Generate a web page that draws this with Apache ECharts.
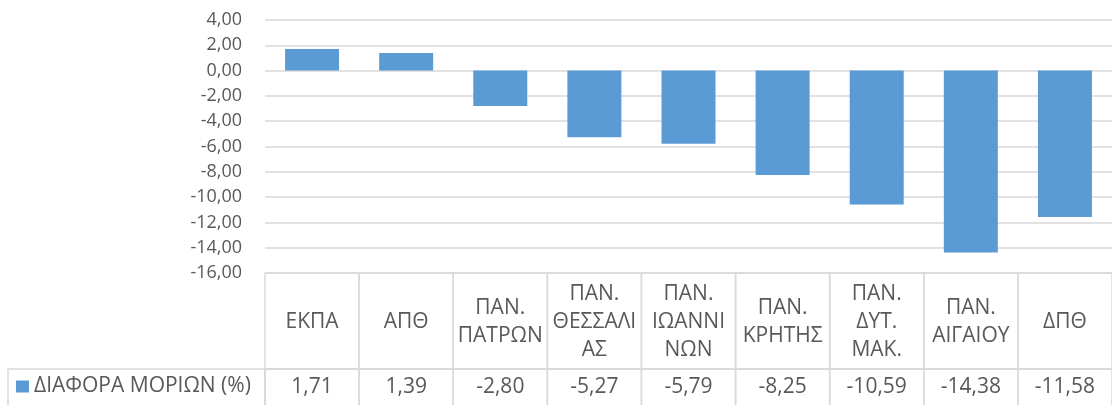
<!DOCTYPE html>
<html>
<head>
<meta charset="utf-8">
<script src="https://cdn.jsdelivr.net/npm/echarts@6/dist/echarts.min.js"></script>
<style>
  html, body { margin: 0; padding: 0; background: #fff; }
  #chart { width: 1112px; height: 405px; }
</style>
</head>
<body>
<div id="chart"></div>
<script>
// data
const categories = ['ΕΚΠΑ', 'ΑΠΘ', 'ΠΑΝ.\nΠΑΤΡΩΝ', 'ΠΑΝ.\nΘΕΣΣΑΛΙ\nΑΣ', 'ΠΑΝ.\nΙΩΑΝΝΙ\nΝΩΝ',
  'ΠΑΝ.\nΚΡΗΤΗΣ', 'ΠΑΝ.\nΔΥΤ.\nΜΑΚ.', 'ΠΑΝ.\nΑΙΓΑΙΟΥ', 'ΔΠΘ'];
const seriesName = 'ΔΙΑΦΟΡΑ ΜΟΡΙΩΝ (%)';
const values = [1.71, 1.39, -2.80, -5.27, -5.79, -8.25, -10.59, -14.38, -11.58];
const yMin = -16, yMax = 4, yStep = 2;

const FONT = '"Open Sans", "Noto Sans", sans-serif';
const TEXT = '#595959';
const LINE = '#D9D9D9';
const fmt = v => v.toFixed(2).replace('.', ',');

const chart = echarts.init(document.getElementById('chart'));

// data table under the plot, one column per category
function renderTable(params, api) {
  const i = api.value(0);
  const bottom = api.coord([i, yMin]);
  const w = api.size([1, 0])[0];
  const x0 = bottom[0] - w / 2;
  const y0 = bottom[1];
  const rowH = 96;
  return {
    type: 'group',
    children: [
      { type: 'rect', shape: { x: x0, y: y0, width: w, height: rowH },
        style: { fill: 'none', stroke: LINE, lineWidth: 1.5 } },
      { type: 'rect', shape: { x: x0, y: y0 + rowH, width: w, height: 50 },
        style: { fill: 'none', stroke: LINE, lineWidth: 1.5 } },
      { type: 'text', style: { text: categories[i], x: bottom[0], y: y0 + rowH / 2 + 1,
          align: 'center', verticalAlign: 'middle', lineHeight: 28,
          font: '21px ' + FONT, fill: TEXT } },
      { type: 'text', style: { text: fmt(values[i]), x: bottom[0], y: y0 + rowH + 18,
          align: 'center', verticalAlign: 'middle',
          font: '21px ' + FONT, fill: TEXT } }
    ]
  };
}

const option = {
  animation: false,
  textStyle: { fontFamily: FONT },
  grid: { left: 265, top: 20, width: 850, height: 253, containLabel: false },
  legend: {
    data: [{ name: seriesName, icon: 'rect' }],
    left: 16, top: 376, padding: 0,
    itemWidth: 13, itemHeight: 12, itemGap: 5,
    textStyle: { fontSize: 21, color: TEXT, fontFamily: FONT }
  },
  graphic: [
    { type: 'rect', shape: { x: 8, y: 369, width: 257, height: 50 },
      style: { fill: 'none', stroke: LINE, lineWidth: 1.5 }, silent: true }
  ],
  xAxis: {
    type: 'category',
    data: categories,
    axisLine: { show: false },
    axisTick: { show: false },
    axisLabel: { show: false }
  },
  yAxis: {
    type: 'value',
    min: yMin, max: yMax, interval: yStep,
    axisLine: { show: false },
    axisTick: { show: false },
    axisLabel: { formatter: fmt, fontSize: 18, color: TEXT, margin: 23, fontFamily: FONT },
    splitLine: { lineStyle: { color: LINE, width: 1.5 } }
  },
  series: [
    {
      name: seriesName,
      type: 'bar',
      data: values,
      barWidth: 54,
      itemStyle: { color: '#5B9BD5' }
    },
    {
      type: 'custom',
      renderItem: renderTable,
      clip: false,
      silent: true,
      data: values.map((v, i) => [i, v])
    }
  ]
};

chart.setOption(option);
</script>
</body>
</html>
